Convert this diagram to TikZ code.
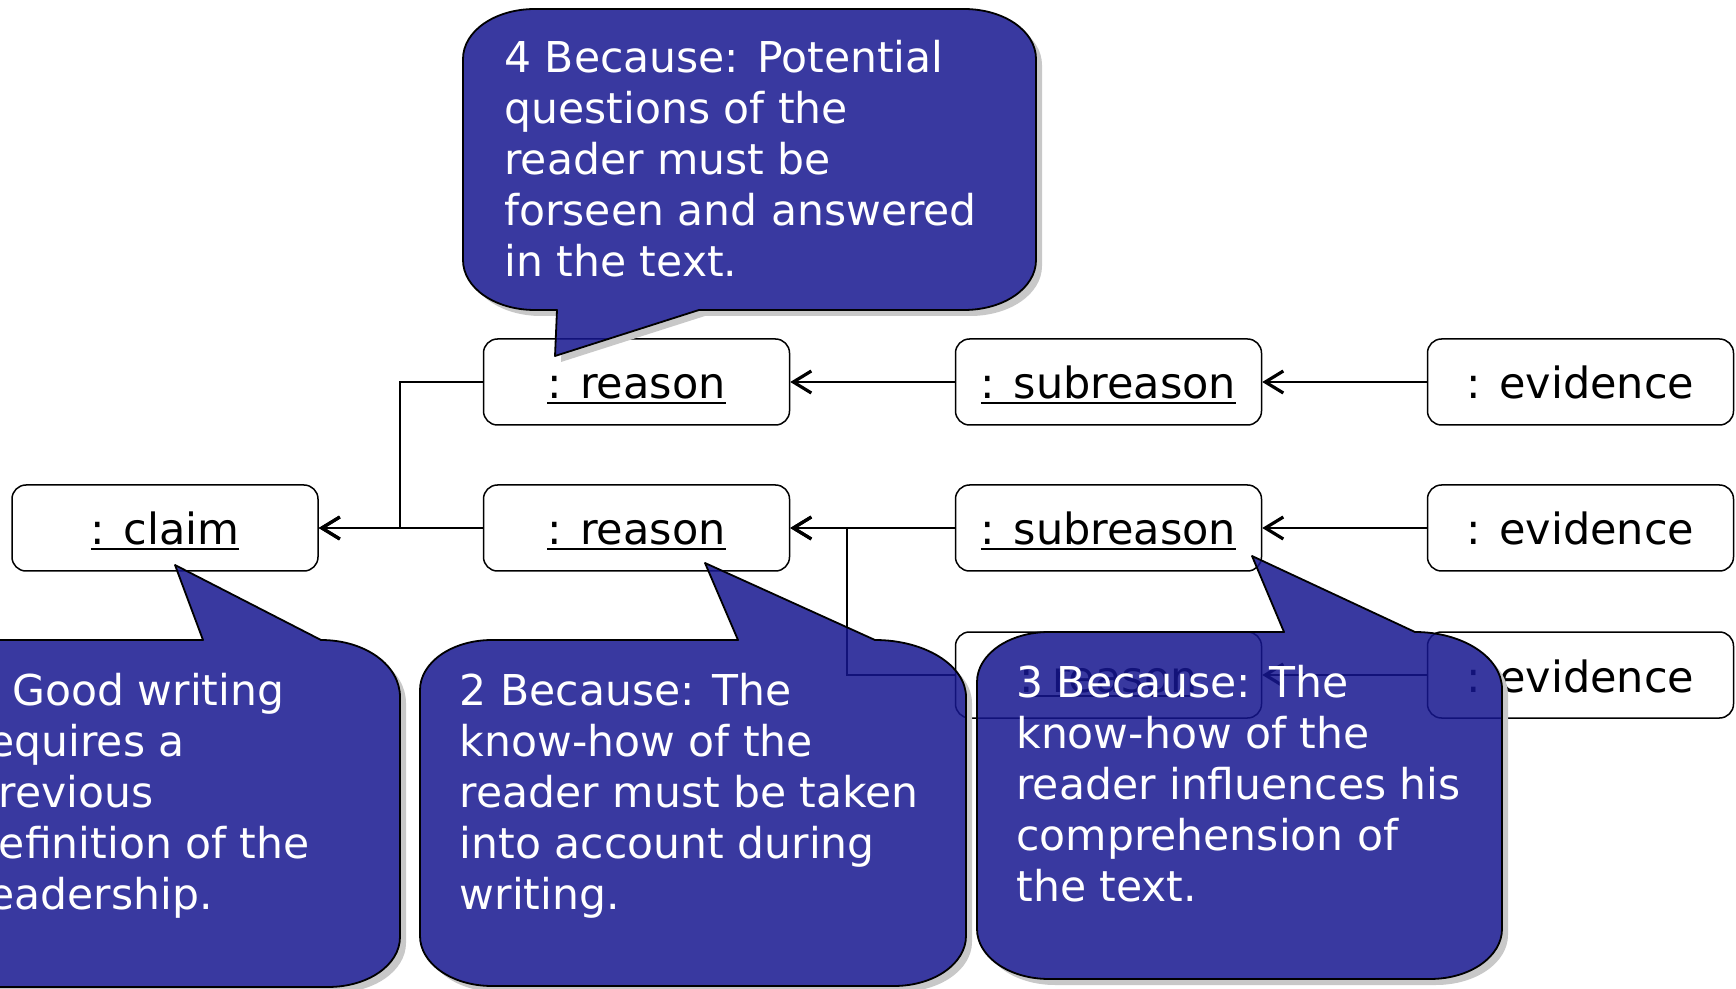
\documentclass[tikz,border=0pt]{standalone}
\usepackage{fontspec}
\setmainfont{DejaVu Sans}
\usetikzlibrary{arrows.meta}
\definecolor{callfill}{RGB}{22,22,143}
\definecolor{shadowgray}{RGB}{200,200,200}
\newcommand\ulin[1]{\setbox0\hbox{#1}\rlap{\rule[-2.5pt]{\wd0}{1pt}}\box0}
\newcommand\cpathA{(535,9) -- (964,9) .. controls (1004,9) and (1036,31) .. (1036,59) -- (1036,260) .. controls (1036,288) and (1004,310) .. (964,310) -- (699,310) -- (555,356) -- (557,310) -- (535,310) .. controls (495,310) and (463,288) .. (463,260) -- (463,59) .. controls (463,31) and (495,9) .. (535,9) -- cycle}
\newcommand\cpathB{(-200,640) -- (203,640) -- (175,565) -- (321,640) .. controls (365,640) and (400,665) .. (400,697) -- (400,937) .. controls (400,965) and (368,987) .. (328,987) -- (-200,987) -- cycle}
\newcommand\cpathC{(492,640) -- (738,640) -- (705,563) -- (875,640) .. controls (925,640) and (966,665.5) .. (966,697) -- (966,936) .. controls (966,963.6) and (934,986) .. (894,986) -- (492,986) .. controls (452,986) and (420,963.6) .. (420,936) -- (420,690) .. controls (420,662.4) and (452,640) .. (492,640) -- cycle}
\newcommand\cpathD{(1049,632) -- (1284,632) -- (1252,556) -- (1415,632) .. controls (1463,632) and (1502,657.5) .. (1502,689) -- (1502,929) .. controls (1502,956.6) and (1470,979) .. (1430,979) -- (1049,979) .. controls (1009,979) and (977,956.6) .. (977,929) -- (977,682) .. controls (977,654.4) and (1009,632) .. (1049,632) -- cycle}
\tikzset{
 objbox/.style={draw=black, line width=0.75pt, rounded corners=7pt, minimum width=153pt, minimum height=43pt, inner sep=0pt, fill=white, text height=19pt, text depth=2pt, font=\fontsize{21.5pt}{26pt}\selectfont},
 link/.style={line width=0.75pt, -{Straight Barb[length=9pt,width=11pt,line width=1.6pt]}},
 callout/.style={fill=callfill, fill opacity=0.85, draw=black, line width=0.9pt, line join=round},
 callshadow/.style={fill=shadowgray},
 calltext/.style={anchor=base west, align=left, inner sep=0pt, text=white, font=\fontsize{21.25pt}{25.5pt}\selectfont}
}
\begin{document}
\begin{tikzpicture}[x=0.5pt,y=-0.5pt]
\useasboundingbox (0,0) rectangle (1736,989);
\clip (0,0) rectangle (1736,989);
% object boxes
\node[objbox] (claim) at (165,528) {\ulin{: claim}};
\node[objbox] (r1) at (636.5,382) {\ulin{: reason}};
\node[objbox] (r2) at (636.5,528) {\ulin{: reason}};
\node[objbox] (s1) at (1108.5,382) {\ulin{: subreason}};
\node[objbox] (s2) at (1108.5,528) {\ulin{: subreason}};
\node[objbox] (s3) at (1108.5,675) {\ulin{: reason}};
\node[objbox] (e1) at (1580.5,382) {: evidence};
\node[objbox] (e2) at (1580.5,528) {: evidence};
\node[objbox] (e3) at (1580.5,675) {: evidence};
% connectors
\draw[link] (r1.west) -- ++(-83,0) |- (claim.east);
\draw[link] (r2.west) -- (claim.east);
\draw[link] (s1.west) -- (r1.east);
\draw[link] (s2.west) -- (r2.east);
\draw[link] (s3.west) -- ++(-108,0) |- (r2.east);
\draw[link] (e1.west) -- (s1.east);
\draw[link] (e2.west) -- (s2.east);
\draw[link] (e3.west) -- (s3.east);
% callouts
\begin{scope}[even odd rule]
 \clip (-300,-300) rectangle (2000,1300) \cpathA;
 \fill[callshadow, shift={(6,6)}] \cpathA;
\end{scope}
\path[callout] \cpathA;
\node[calltext] (t4) at (504,276.5) {4 Because: Potential\\questions of the\\reader must be\\forseen and answered\\in the text.};
\begin{scope}[even odd rule]
 \clip (-300,-300) rectangle (2000,1300) \cpathB;
 \fill[callshadow, shift={(6,6)}] \cpathB;
\end{scope}
\path[callout] \cpathB;
\node[calltext] (t1) at (-28.5,909.5) {1 Good writing\\requires a\\previous\\definition of the\\readership.};
\begin{scope}[even odd rule]
 \clip (-300,-300) rectangle (2000,1300) \cpathC;
 \fill[callshadow, shift={(6,6)}] \cpathC;
\end{scope}
\path[callout] \cpathC;
\node[calltext] (t2) at (459.5,909.5) {2 Because: The\\know-how of the\\reader must be taken\\into account during\\writing.};
\begin{scope}[even odd rule]
 \clip (-300,-300) rectangle (2000,1300) \cpathD;
 \fill[callshadow, shift={(6,6)}] \cpathD;
\end{scope}
\path[callout] \cpathD;
\node[calltext] (t3) at (1016,901) {3 Because: The\\know-how of the\\reader influences his\\comprehension of\\the text.};
\end{tikzpicture}
\end{document}
